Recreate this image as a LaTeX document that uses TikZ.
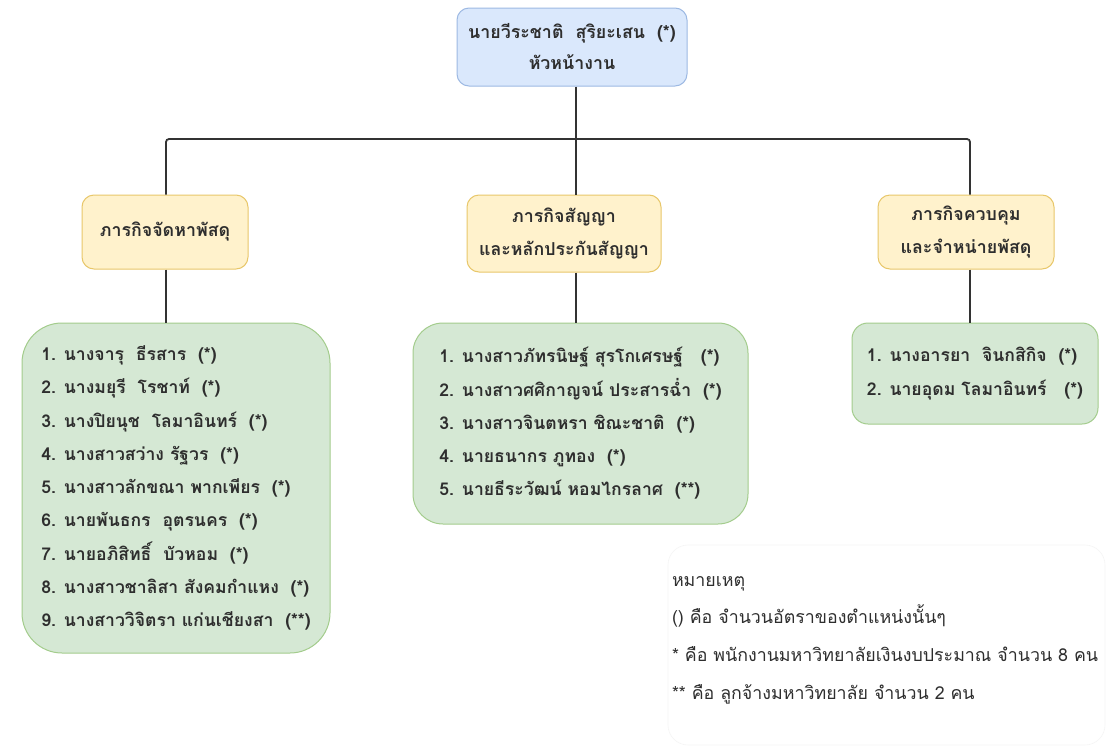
\documentclass[tikz,border=0pt]{standalone}
\usepackage{fontspec}
\newfontfamily\thai[Script=Thai]{Loma}
\definecolor{txt}{HTML}{2E2E2E}
\definecolor{bluef}{HTML}{DAE8FC}
\definecolor{blued}{HTML}{9DB9E3}
\definecolor{orf}{HTML}{FFF2CC}
\definecolor{ord}{HTML}{E8C76A}
\definecolor{grf}{HTML}{D5E8D4}
\definecolor{grd}{HTML}{A3CC8C}
\definecolor{conn}{HTML}{333333}
\begin{document}
\begin{tikzpicture}[x=1pt,y=-1pt,
  every node/.style={text=txt},
  topbox/.style={draw=blued,fill=bluef,line width=1pt,rounded corners=12pt,align=center,
     font={\thai\bfseries\fontsize{17.8}{31}\selectfont}},
  taskbox/.style={draw=ord,fill=orf,line width=1pt,rounded corners=12pt,align=center,
     font={\thai\bfseries\fontsize{17.8}{33}\selectfont}},
  listbox/.style={draw=grd,fill=grf,line width=1pt,align=left,
     font={\thai\bfseries\fontsize{17.6}{33.3}\selectfont}},
  noteframe/.style={draw=black!4,fill=white,line width=0.6pt,rounded corners=20pt},
  notetext/.style={align=left,inner sep=4pt,text width=429pt,
     font={\thai\fontsize{17.8}{37.7}\selectfont}},
  link/.style={draw=conn,line width=1.8pt}]
\useasboundingbox (0,0) rectangle (1109,750);
\fill[white] (0,0) rectangle (1109,750);

\node[topbox,minimum width=230pt,minimum height=78pt] (top) at (572,47)
  {นายวีระชาติ~~สุริยะเสน~~(*)\\หัวหน้างาน};

\node[taskbox,minimum width=166pt,minimum height=74pt] (t1) at (165,232)
  {ภารกิจจัดหาพัสดุ};
\node[taskbox,minimum width=194pt,minimum height=77pt] (t2) at (564,233.5)
  {ภารกิจสัญญา\\และหลักประกันสัญญา};
\node[taskbox,minimum width=176pt,minimum height=74pt] (t3) at (966,232)
  {ภารกิจควบคุม\\และจำหน่ายพัสดุ};

\node[listbox,rounded corners=40pt,minimum width=308pt,minimum height=330pt] (l1) at (176,488)
  {1. นางจารุ~~ธีรสาร~~(*)\\
   2. นางมยุรี~~โรชาท์~~(*)\\
   3. นางปิยนุช~~โลมาอินทร์~~(*)\\
   4. นางสาวสว่าง รัฐวร~~(*)\\
   5. นางสาวลักขณา พากเพียร~~(*)\\
   6. นายพันธกร~~อุตรนคร~~(*)\\
   7. นายอภิสิทธิ์~~บัวหอม~~(*)\\
   8. นางสาวชาลิสา สังคมกำแหง~~(*)\\
   9. นางสาววิจิตรา แก่นเชียงสา~~(**)};
\node[listbox,rounded corners=30pt,minimum width=335pt,minimum height=201pt] (l2) at (580.5,423.5)
  {1. นางสาวภัทรนิษฐ์ สุรโกเศรษฐ์~~~(*)\\
   2. นางสาวศศิกาญจน์ ประสารฉ่ำ~~(*)\\
   3. นางสาวจินตหรา ชิณะชาติ~~(*)\\
   4. นายธนากร ภูทอง~~(*)\\
   5. นายธีระวัฒน์ หอมไกรลาศ~~(**)};
\node[listbox,rounded corners=16pt,minimum width=246pt,minimum height=101pt] (l3) at (975,373.5)
  {1. นางอารยา~~จินกสิกิจ~~(*)\\
   2. นายอุดม โลมาอินทร์~~~(*)};

\path[noteframe] (668,545) rectangle (1105,745);
\node[notetext] (note) at (886.5,640)
  {หมายเหตุ\\
   () คือ จำนวนอัตราของตำแหน่งนั้นๆ\\\relax
   * คือ พนักงานมหาวิทยาลัยเงินงบประมาณ จำนวน 8 คน\\\relax
   ** คือ ลูกจ้างมหาวิทยาลัย จำนวน 2 คน};

\coordinate (hub) at ([xshift=4pt]top.south |- 0,139);
\coordinate (d1) at (166,139);
\coordinate (d3) at (970,139);
\path[link] ([xshift=4pt]top.south) -- (hub);
\path[link,rounded corners=3pt] (d1 |- t1.north) -- (d1) -- (d3) -- (d3 |- t3.north);
\path[link] (hub) -- (hub |- t2.north);
\path[link] (d1 |- t1.south) -- (d1 |- l1.north);
\path[link] (hub |- t2.south) -- (hub |- l2.north);
\path[link] (d3 |- t3.south) -- (d3 |- l3.north);
\end{tikzpicture}
\end{document}
